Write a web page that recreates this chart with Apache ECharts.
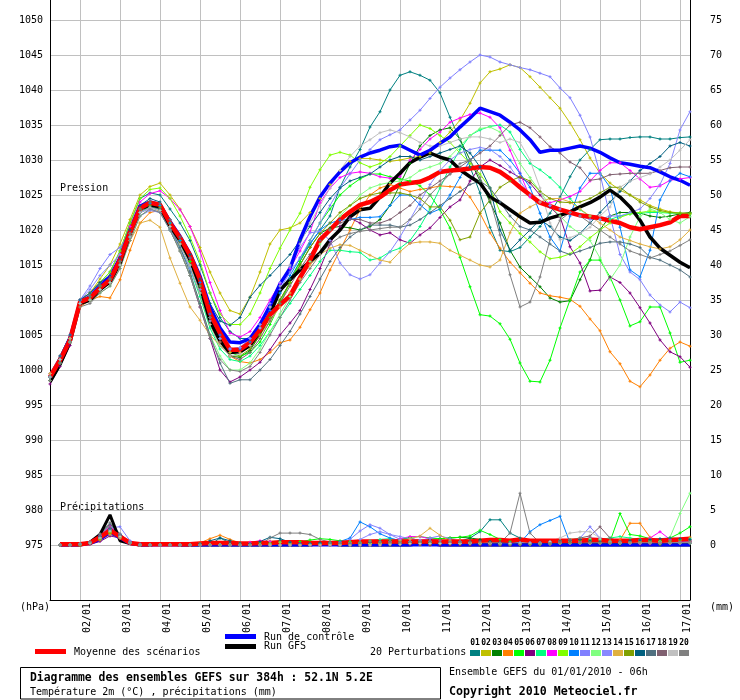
<!DOCTYPE html>
<html><head><meta charset="utf-8">
<script src="https://cdn.jsdelivr.net/npm/echarts@6/dist/echarts.min.js"></script>
<style>html,body{margin:0;padding:0;background:#fff;}#c{width:740px;height:700px;}</style>
</head><body><div id="c"></div>
<script>
const STEP_H = 6;
const DAY_LABELS = ['02/01','03/01','04/01','05/01','06/01','07/01','08/01','09/01','10/01','11/01','12/01','13/01','14/01','15/01','16/01','17/01'];
const DAY_TICK_HOURS = [18,42,66,90,114,138,162,186,210,234,258,282,306,330,354,378];
const PRESSURE_TICKS = [975,980,985,990,995,1000,1005,1010,1015,1020,1025,1030,1035,1040,1045,1050];
const PRECIP_TICKS = [0,5,10,15,20,25,30,35,40,45,50,55,60,65,70,75];
const MEMBER_NAMES = ['01','02','03','04','05','06','07','08','09','10','11','12','13','14','15','16','17','18','19','20'];
const MEMBER_COLORS = ['#008080','#c0c000','#008000','#ff8000','#00ff00','#800080','#00ff80','#ff00ff','#80ff00','#0080ff','#8080ff','#80ff80','#8888ff','#e0b040','#80a000','#006080','#507080','#806070','#c0c0c0','#808080'];

// Pressure (hPa), every 6h from 01/01 06h
const P01 = [998.5,1001,1004.5,1010,1011,1012.5,1014,1017,1021,1024.5, 1025.3,1025,1023,1021,1018.5,1015,1011,1007.5,1005.5,1004.5, 1004.5,1006.5,1009,1011,1013,1015.5,1018,1020,1022,1026.1, 1029,1031.5,1034.7,1036.9,1040,1042.1,1042.6,1042.1,1041.4,1039.6, 1036.1,1032.9,1029,1025.3,1020.4,1017.1,1016.9,1017.5,1019,1020.5, 1022.4,1024.7,1027.6,1030,1031.5,1032.9,1033,1033,1033.2,1033.3, 1033.3,1033,1033,1033.2,1033.3];
const P02 = [998.5,1001.5,1004.5,1010,1011,1013,1015,1018,1021.5,1025, 1026.2,1026.7,1025,1023,1020.5,1017.5,1014,1011,1008.5,1008, 1010.4,1014,1018,1020,1020.3,1021,1022.5,1024.5,1026.5,1028.5, 1029.8,1030.2,1030.2,1030,1029.8,1030,1030.3,1030.5,1031,1032.5, 1034,1035.7,1038.1,1041,1042.6,1043,1043.6,1043.2,1041.9,1040.4, 1038.9,1037.4,1035.3,1032.9,1030.3,1028.1,1026.7,1025.7,1025,1024.3, 1023.5,1023,1022.6,1022.4,1022.4];
const P03 = [999,1001.5,1004,1009.5,1010,1011.5,1012.5,1015,1019,1022.5, 1023.5,1023,1020.5,1018,1015.5,1012,1007.5,1004.5,1002,1001.8, 1002.8,1005,1007.5,1010,1012.5,1015,1017.5,1019.5,1020.3,1020.5, 1020.3,1020,1020.5,1021.5,1023.5,1026.5,1029.5,1032,1033.5,1034.3, 1034.6,1033,1030,1027,1024,1021,1017.1,1014.7,1013.3,1011.9, 1010.3,1009.7,1009.9,1012.9,1015.7,1020,1022,1022.5,1022.5,1022.4, 1022,1021.8,1022,1022.3,1022.5];
const P04 = [999.5,1002,1004.5,1009,1010,1010.5,1010.3,1012.9,1017.1,1021, 1022.5,1022.8,1021,1018.5,1015.5,1011.5,1007,1004,1002,1001.2, 1001,1001.5,1002.5,1003.9,1004.3,1006.1,1008.6,1011,1014.3,1017.1, 1020,1022.9,1025,1026,1026.5,1026,1025.5,1025.8,1026,1026.3, 1026.2,1026.1,1024.7,1022.4,1019.6,1017.4,1015.4,1013.9,1012.4,1011, 1010.6,1010.4,1010.1,1009.1,1007.3,1005.6,1002.6,1000.9,998.4,997.6, 999.3,1001.4,1003.1,1004,1003.4];
const P05 = [999,1001.5,1004,1009.5,1010.5,1012,1013,1015.5,1019.5,1023, 1024,1023.5,1021,1018.5,1015.5,1012,1007.5,1004.5,1002.5,1002, 1002.5,1004,1006.5,1009.5,1012.5,1015.5,1018.5,1021,1023,1025, 1026.3,1027.3,1028,1028,1027.6,1027.3,1027,1026.3,1025,1022.9, 1020.3,1016.1,1011.9,1007.9,1007.7,1006.6,1004.4,1001,998.4,998.3, 1001.4,1006,1010,1014,1015.7,1015.7,1013.3,1010,1006.3,1006.9, 1009,1009,1005.3,1001.1,1001.4];
const P06 = [998,1000.5,1003.5,1009.5,1010,1011.5,1012.5,1015,1019,1022.5, 1023.2,1022.8,1020,1017,1013.5,1009,1004.5,1000,998.3,999, 1000,1001.1,1002.9,1005,1006.7,1008.5,1011.5,1014.5,1018,1020.5, 1021.7,1021,1020,1019.3,1019.6,1018.6,1018.1,1019.3,1020.3,1021.8, 1023.3,1024.3,1027,1029,1030,1029.2,1028.3,1027.5,1026.7,1025, 1023.3,1021.9,1017.6,1015.3,1011.3,1011.4,1013.3,1012.5,1011,1008.9, 1006.7,1004.3,1002.6,1001.9,1000.4];
const P07 = [999,1001.5,1004,1009.5,1010,1011.5,1012.5,1015,1019,1022.5, 1023.3,1022.8,1020,1017.5,1014.5,1010.5,1006,1003,1001.5,1001.2, 1002,1003.5,1005.5,1007.5,1009.5,1011.5,1013.5,1015.5,1017.1,1017.1, 1016.9,1016.8,1015.7,1016,1016.9,1017.4,1018.5,1020.5,1023,1026, 1029,1031.5,1033.5,1034.3,1034.8,1035,1034,1031.5,1029.5,1028.6, 1027.5,1026.1,1024.5,1022.9,1022,1021.5,1021.5,1022,1022.3,1022.4, 1022.5,1022.5,1022.4,1022.4,1022.3];
const P08 = [999,1001.5,1004.5,1010,1011,1012.5,1013.5,1016.5,1020.5,1024, 1025.2,1025.6,1024.5,1022.9,1020.5,1017,1012.5,1008.5,1005.3,1004.7, 1005.5,1007.5,1010,1012.4,1014.5,1017,1019.7,1023.9,1026,1027.5, 1028.1,1028.3,1028.1,1027.6,1027.4,1027.6,1030,1031.5,1033,1034, 1035.4,1036,1036.5,1036.7,1036.1,1034.6,1031.4,1028.1,1024.7,1024, 1023.9,1024.3,1024.8,1025.5,1027,1028.5,1029.6,1029.6,1028.5,1027.3, 1026.1,1026.3,1027.1,1027.3,1027.5];
const P09 = [999,1001.5,1004.5,1010,1011,1012.5,1014,1017,1021,1024.5, 1025.8,1026,1024.5,1022,1019,1015.5,1011,1008,1006.5,1006.5, 1008,1011,1014.5,1017.4,1020,1022.4,1026.1,1028.6,1030.7,1031.1, 1030.7,1029.6,1029,1029.5,1030.5,1032,1033.5,1035,1034.5,1033.5, 1032.5,1031,1029.5,1028,1026,1022.6,1021,1019.5,1018.3,1016.9, 1015.9,1016.1,1016.6,1017.6,1018.9,1020,1021,1021.8,1022.3,1022.5, 1022.7,1022.6,1022.5,1022.4,1022.3];
const P10 = [999,1001.5,1004.5,1009.5,1010.5,1012,1013,1015.5,1019.5,1023, 1023.8,1023.5,1021,1018.5,1016,1012.5,1008,1005,1003,1003, 1004,1006,1008.5,1011,1013.5,1016,1018,1020,1021,1021.4, 1021.5,1021.8,1021.8,1021.9,1023.5,1025,1025,1023.6,1022.4,1023, 1025,1027.5,1030,1031.4,1031.4,1031.4,1030,1028.1,1026.1,1022.4, 1019,1017,1022,1026,1028.1,1028.1,1026.1,1020.4,1014.3,1013.3, 1017.1,1024.3,1027,1028.1,1027.6];
const P11 = [999.5,1002,1005,1010,1012,1014.5,1016.5,1017.5,1019.5,1022, 1022.8,1022.5,1020.5,1018,1015,1011.5,1007.5,1004.5,1003,1003.2, 1004.5,1006.5,1009,1011.5,1014,1016,1018.5,1021,1023.5,1026, 1028,1030,1031.5,1032.9,1033.6,1034.3,1035.7,1037.1,1038.8,1040.4, 1041.7,1042.9,1044,1045,1044.7,1044,1043.6,1043.2,1042.9,1042.4, 1041.9,1040.3,1038.9,1036.4,1033.3,1028,1022,1016.5,1014,1012.9, 1010.7,1009.3,1008.3,1009.7,1008.9];
const P12 = [998.5,1001,1004,1009.5,1010,1011,1012,1014.5,1018.5,1022, 1023,1022.5,1020,1017,1013.5,1009.5,1005,1002,1000,1000, 1001,1003,1005.5,1008,1010.5,1013,1015.5,1018,1020,1022, 1023.5,1025,1026,1026.5,1026.8,1027,1027.5,1028.5,1029,1029.5, 1030.5,1032,1033.5,1034.5,1034.7,1034,1032,1029.5,1027.5,1025.5, 1023.5,1022,1020.5,1019.5,1018.5,1016,1012.9,1015,1019,1021.9, 1023,1022.5,1021.5,1021,1021.9];
const P13 = [999,1001.5,1004.5,1010,1011.5,1013.5,1015,1016.5,1019,1022.5, 1023,1022.5,1020,1017.5,1014.5,1011,1007,1004.5,1003,1003.2, 1004.5,1006.5,1009.5,1012.5,1014.7,1017.5,1019.6,1019.8,1018.5,1015.3, 1013.6,1013,1013.6,1015.3,1016.9,1019,1021.5,1024,1026.5,1028.5, 1030,1031,1031.5,1031.8,1031.5,1030.5,1029,1027,1025,1024, 1023.5,1023,1022.5,1022,1021.5,1021.5,1022,1022,1022.5,1023, 1024.5,1026.5,1029.5,1034.3,1036.9];
const P14 = [999.5,1001.5,1004.5,1009.5,1010,1011.5,1012.5,1015,1018.5,1021, 1021.4,1020.4,1016,1012.4,1009,1007.1,1005,1003.5,1002.5,1002.5, 1003.5,1005,1007,1009,1011,1013,1015,1016.5,1017.4,1017.9, 1017.8,1017.1,1016.4,1015.7,1015.4,1016.9,1018.1,1018.3,1018.3,1018.1, 1017.1,1016.4,1015.7,1015,1014.7,1015.7,1019.6,1022.4,1023.3,1024, 1024.5,1024.5,1024,1023,1022,1021,1020,1019,1018.5,1018, 1017.6,1017.3,1017.6,1018.6,1020];
const P15 = [998.5,1001,1004,1009.5,1010.5,1012,1013,1015.5,1019.5,1023, 1023.5,1023.2,1020.5,1018,1015,1011,1006.5,1003.5,1002,1002, 1003,1005,1007.5,1010,1012.5,1015,1017.5,1019.5,1021,1022.5, 1023.5,1024.5,1025,1025.3,1025.3,1025.3,1025,1024.5,1023.3,1023.3, 1021.4,1018.6,1019,1022.4,1024.3,1026.1,1027,1027.6,1027,1025.5, 1024.5,1024,1023.9,1024,1024.5,1025.3,1026.1,1026.1,1025,1024, 1023.3,1022.8,1022.5,1022.4,1022.4];
const P16 = [999,1002,1005,1010,1011,1012.5,1013.5,1016,1020,1023.5, 1024.5,1024,1021.5,1019,1016.5,1013,1009.5,1007,1006.4,1007.5, 1010.4,1012.1,1013.5,1015,1016.5,1018.5,1020.5,1022.5,1024.5,1026, 1027,1027.5,1028,1029,1030,1030.5,1030.5,1030,1030.5,1031, 1031.5,1032,1031,1029,1026,1020,1017.1,1018.6,1020,1021.5, 1020.5,1019,1018.5,1019.5,1021,1022.5,1024,1025.5,1027,1028.5, 1029.5,1030.5,1032,1032.5,1032];
const P17 = [998.5,1001,1004,1009.5,1010,1011.5,1012.5,1015,1019,1022.5, 1023.3,1023,1020.5,1017.5,1014,1009.5,1005,1001,998.1,998.6, 998.6,1000,1001.5,1003.5,1005.5,1008,1010.5,1013,1015.5,1017.5, 1019,1020,1020.7,1020.7,1020.7,1020.4,1020.7,1021.5,1022.5,1023.5, 1024.5,1025.5,1026.5,1027,1026,1024,1022,1020.5,1020,1019, 1018,1017,1016.5,1017,1017.5,1018.1,1018.3,1018.3,1018,1017.5, 1016.1,1015.7,1015,1014.3,1013.3];
const P18 = [999,1001.5,1004,1009.5,1010.5,1012,1013,1015.5,1019.5,1023, 1024,1023.8,1021.5,1019,1016,1012,1007.5,1004,1002,1001.5, 1002.5,1004.5,1007,1009.5,1012,1014.5,1016.5,1018.5,1020,1021, 1021.5,1021.5,1021,1021,1021.5,1022.5,1023.5,1025,1026,1027, 1028,1029,1030,1031,1032,1033.5,1035,1035.4,1034.6,1033.3, 1031.9,1031,1029.7,1028.9,1027.1,1027.3,1027.9,1028,1028.1,1028.1, 1028.1,1028.5,1028.9,1029,1029];
const P19 = [999,1001.5,1004,1009.5,1010,1011.5,1012.5,1015,1019,1022.5, 1023.2,1022.8,1020.5,1018,1015,1011,1006.5,1003.5,1002,1002.2, 1003.5,1006,1009,1012,1015,1018,1021,1023.5,1026,1028.5, 1030.5,1032,1032.9,1033.9,1034.3,1033.9,1033.3,1032.5,1032,1032, 1032.5,1033,1033.3,1033.3,1033,1032.5,1033,1032.5,1030,1026, 1021,1018.6,1018.9,1019.5,1020.4,1022,1023.3,1026.1,1027,1027.5, 1028,1029,1030,1031.4,1032.9];
const P20 = [998.5,1001,1004,1009,1009.5,1011,1012,1014.5,1018.5,1022, 1023,1022.5,1020,1017,1013.5,1009,1004.5,1001.5,1000,999.8, 1000.5,1002.5,1005,1007.5,1010,1012.5,1014.5,1016.5,1018,1019, 1019.5,1019.8,1020,1020.2,1020.4,1020.4,1021.5,1023,1025,1026.5, 1028,1029.5,1030,1027.5,1024.3,1019.3,1013.6,1009,1009.7,1013.3, 1018.6,1021.4,1022.5,1022,1021,1020,1019,1018,1017,1016.5, 1016,1016.5,1017,1017.8,1018.6];
const CONTROL = [999,1001.5,1004.5,1009.7,1010.5,1012,1013.3,1016,1020,1023.4, 1024,1023.6,1021.2,1019.1,1016.6,1013.4,1009,1006,1004,1003.9, 1004.5,1006.5,1009.2,1012.3,1014.5,1018.6,1021.9,1024.7,1026.7,1028.3, 1029.6,1030.4,1031,1031.4,1031.9,1032.1,1031.4,1030.7,1031.4,1032.4, 1033.3,1034.7,1036,1037.4,1036.9,1036.4,1035.4,1034.3,1032.9,1031.1, 1031.4,1031.4,1031.7,1032,1031.7,1031.1,1030.3,1029.6,1029.4,1029.1, 1028.9,1028.3,1027.6,1027.1,1026.4];
const GFS = [998.3,1000.8,1004,1009.5,1010,1011.5,1012.6,1015.3,1019.5,1023, 1023.6,1023.3,1020.6,1018.5,1015.8,1012,1007,1004.2,1002.5,1002.6, 1003.5,1005.5,1008,1011.4,1012.9,1014.3,1015.5,1016.7,1018.6,1020, 1021.9,1022.9,1023.1,1024.7,1026.7,1028.1,1029.6,1030.4,1031,1030.4, 1030,1028.6,1027.6,1026.7,1024.7,1023.9,1022.9,1021.9,1021,1021.1, 1021.7,1022.1,1022.6,1023.3,1023.9,1024.7,1025.7,1024.7,1023.3,1021.4, 1019,1017.4,1016.4,1015.4,1014.6];
const MEAN = [999,1001.4,1004.3,1009.7,1010.3,1011.7,1012.9,1015.7,1019.7,1023.1, 1023.9,1023.6,1021,1018.9,1016.4,1012.9,1008.1,1005.3,1002.9,1002.9, 1003.9,1005.7,1007.9,1009.3,1010.6,1013.2,1015.7,1018.6,1020,1021.5, 1022.6,1023.6,1024,1024.7,1025.7,1026.5,1026.7,1026.9,1027.5,1028.3, 1028.5,1028.6,1028.8,1029,1028.9,1028.3,1027.3,1026.1,1025,1023.9, 1023.4,1022.9,1022.5,1022.1,1021.9,1021.7,1021.3,1021,1020.4,1020.1, 1020.4,1020.7,1021.1,1022,1022];

// Precipitation (mm per 6h), every 6h from 01/01 12h
const R01 = [0,0,0.1,0.3,1.2,2.4,1.5,0.3, 0,0,0,0,0,0,0,0, 1.0,0.3,0,0,0,0.3,0.6,0.4, 0.2,0.2,0.3,0.4,0.3,0.2,0.2,0.3, 0.3,0.5,0.8,1.0,0.6,0.4,0.3,0.5, 0.5,1.0,1.9,3.6,3.6,1.7,1.0,0.3, 0.2,0.1,0.2,0.3,0.4,0.3,0.2,0.3, 0.3,0.4,0.5,0.6,0.5,0.4,0.5,0.6];
const R02 = [0,0,0,0.2,0.8,1.6,1.0,0.3, 0,0,0,0,0,0,0,0, 0,0,0,0,0,0,0,0, 0,0,0,0.2,0.3,0.2,0.1,0.1, 0.1,0.2,0.1,0.1,0,0,0.2,0.4, 0.3,0.2,0.1,0,0,0,0.1,0.1, 0.2,0.3,0.4,0.5,0.6,0.4,0.3,0.2, 0.2,0.3,0.2,0.2,0.1,0.2,0.4,0.5];
const R03 = [0,0,0.1,0.4,1.3,2.8,1.2,0.2, 0,0,0,0,0,0,0,0, 0,0,0,0,0,0,0,0, 0,0.1,0.2,0.3,0.2,0.1,0.2,0.4, 0.5,0.6,0.4,0.3,0.5,0.8,0.9,1.0, 1.1,1.0,0.8,0.5,0.3,0.2,0.1,0.1, 0.2,0.3,0.4,0.6,0.8,0.5,0.3,0.2, 0.1,0.2,0.3,0.2,0.1,0.2,0.3,0.2];
const R04 = [0,0,0,0.2,0.9,1.8,1.1,0.2, 0,0,0,0,0,0,0.3,0.9, 1.4,0.8,0.3,0.1,0,0,0,0, 0,0,0,0.1,0.2,0.3,0.3,0.2, 0.3,0.5,0.7,0.8,0.6,0.4,0.3,0.3, 0.3,0.2,0.2,0.1,0.1,0.1,0.2,0.2, 0.2,0.2,0.2,0.3,0.4,0.6,0.5,0.6, 0.7,3.1,3.1,1.1,0.5,0.4,0.6,1.1];
const R05 = [0,0,0.1,0.3,1.1,2.2,1.4,0.3, 0,0,0,0,0,0,0,0, 0,0,0,0,0.3,0.5,0.4,0.3, 0.5,0.7,0.9,0.8,0.6,0.5,0.4,0.3, 0.4,0.6,0.8,1.1,1.2,1.0,0.9,1.0, 1.1,1.3,2.1,1.5,0.8,0.5,0.3,0.2, 0.2,0.3,0.5,0.6,0.7,0.8,0.9,0.5, 4.5,1.5,1.3,0.9,0.6,1.0,1.7,2.6];
const R06 = [0,0,0,0.1,0.5,1.3,1.0,0.4, 0.1,0,0,0,0,0,0,0, 0,0,0,0,0,0,0,0, 0,0,0,0,0,0,0,0, 0,0.1,0.2,0.1,0.1,0,0,0, 0,0,0,0,0,0,0,0.1, 0.2,0.3,0.4,0.6,0.8,1.0,0.9,0.5, 0.3,0.2,0.1,0.1,0.2,0.3,0.4,0.5];
const R07 = [0,0,0.1,0.3,1.0,2.1,1.3,0.3, 0,0,0,0,0,0,0,0, 0,0,0,0,0,0,0,0, 0,0,0,0,0,0,0.2,0.6, 0.8,0.9,0.7,0.5,0.4,0.3,0.2,0.2, 0.2,0.3,0.2,0.2,0.1,0.1,0.1,0.1, 0.2,0.3,0.2,0.2,0.4,0.6,0.8,1.0, 1.2,1.0,0.8,0.6,0.5,0.6,0.8,0.9];
const R08 = [0,0,0.1,0.4,1.4,2.7,1.4,0.3, 0,0,0,0,0,0,0,0, 0,0,0,0.4,0.6,0.5,0.4,0.3, 0.2,0.1,0,0,0.1,0.2,0.2,0.3, 0.3,0.5,0.9,1.2,1.2,0.9,0.6,0.4, 0.3,0.3,0.2,0.2,0.2,0.2,0.3,0.3, 0.3,0.3,0.4,0.5,0.5,0.4,0.3,0.3, 0.3,0.4,0.6,1.0,1.9,0.8,0.5,0.6];
const R09 = [0,0,0,0.2,0.8,1.8,1.2,0.3, 0,0,0,0,0,0,0,0, 0,0,0,0,0,0.2,0.4,0.2, 0.1,0.1,0.2,0.2,0.2,0.3,0.3,0.2, 0.2,0.3,0.3,0.2,0.3,0.4,0.3,0.2, 0.3,0.4,0.3,0.2,0.2,0.1,0.1,0.1, 0.1,0.2,0.2,0.3,0.3,0.2,0.2,0.2, 0.3,0.4,0.5,0.5,0.4,0.3,0.3,0.3];
const R10 = [0,0,0.1,0.3,1.0,2.0,1.5,0.5, 0.1,0,0,0,0,0,0,0, 0,0,0,0,0,0,0,0, 0.1,0.1,0.2,0.3,0.5,1.0,3.3,2.6, 1.6,1.0,0.6,0.4,0.3,0.2,0.2,0.2, 0.3,0.3,0.2,0.2,0.2,0.2,0.3,1.9, 2.9,3.5,4.1,0.3,0.2,0.2,0.3,0.3, 0.3,0.5,0.6,0.5,0.4,0.3,0.3,0.3];
const R11 = [0,0,0.1,0.4,1.3,2.5,2.6,0.6, 0.1,0,0,0,0,0,0,0, 0,0,0,0,0,0,0,0, 0,0,0,0.1,0.3,0.8,2.0,2.9, 2.4,1.5,0.8,0.5,0.6,1.0,1.3,0.9, 0.5,0.3,0.2,0.2,0.3,0.3,0.2,0.2, 0.2,0.3,0.4,0.6,1.0,2.6,1.0,0.4, 0.3,0.2,0.2,0.3,0.4,0.3,0.3,0.4];
const R12 = [0,0,0.1,0.3,1.0,1.9,1.1,0.2, 0,0,0,0,0,0,0,0, 0,0,0,0,0,0,0,0, 0,0,0,0,0.1,0.2,0.3,0.2, 0.2,0.3,0.4,0.3,0.3,0.2,0.2,0.2, 0.2,0.3,0.3,0.2,0.2,0.2,0.2,0.2, 0.3,0.4,0.6,0.8,1.0,0.9,0.7,0.5, 0.5,0.4,0.4,0.4,0.5,1.1,4.5,7.4];
const R13 = [0,0,0.1,0.3,1.1,2.2,1.6,0.4, 0,0,0,0,0,0,0,0, 0,0,0,0,0,0,0,0, 0,0,0,0,0,0.3,0.8,1.5, 1.9,1.5,1.2,0.9,0.7,0.5,0.3,0.2, 0.2,0.2,0.2,0.2,0.2,0.3,0.3,0.3, 0.3,0.3,0.4,0.5,0.4,0.3,0.3,0.3, 0.3,0.3,0.3,0.3,0.3,0.3,0.4,0.4];
const R14 = [0,0,0.1,0.2,0.7,1.5,1.0,0.3, 0,0,0,0,0,0,0,0, 0,0,0,0,0,0,0,0, 0,0,0,0,0,0,0,0, 0.1,0.3,0.6,0.9,1.3,2.4,1.4,0.6, 0.4,0.3,0.2,0.2,0.1,0.1,0.1,0.1, 0.1,0.1,0.2,0.2,0.2,0.2,0.3,0.3, 0.3,0.4,0.4,0.4,0.3,0.3,0.3,0.4];
const R15 = [0,0,0,0.2,0.8,1.7,1.2,0.3, 0,0,0,0,0,0,0,0, 0,0,0,0,0,0,0,0, 0,0,0,0,0,0,0,0, 0,0,0.1,0.2,0.2,0.1,0.1,0.1, 0.1,0.1,0.1,0.1,0.1,0.1,0.1,0.1, 0.1,0.2,0.3,0.5,0.6,0.4,0.3,0.3, 0.3,0.4,0.5,0.5,0.4,0.5,0.6,0.7];
const R16 = [0,0,0.1,0.3,1.2,2.3,1.3,0.2, 0,0,0,0,0,0,0.2,0.6, 1.0,0.6,0.3,0.2,0.5,1.1,0.9,0.4, 0.2,0.2,0.3,0.3,0.2,0.2,0.3,0.4, 0.5,0.4,0.3,0.3,0.4,0.4,0.3,0.3, 0.4,0.5,0.6,0.5,0.4,0.3,0.3,0.3, 0.4,0.5,0.6,0.7,0.8,0.6,0.5,0.4, 0.5,0.6,0.7,0.8,0.9,1.0,0.9,0.8];
const R17 = [0,0,0.1,0.4,1.5,3.0,1.5,0.3, 0,0,0,0,0,0,0,0, 0,0,0,0,0,0,0,0, 0,0,0,0,0,0,0,0, 0,0.1,0.2,0.3,0.2,0.2,0.3,0.3, 0.3,0.2,0.2,0.1,0.1,0.1,0.1,0.1, 0.1,0.2,0.3,0.3,0.3,0.4,0.3,0.3, 0.2,0.2,0.3,0.3,0.3,0.3,0.3,0.3];
const R18 = [0,0,0.1,0.3,1.1,2.5,1.3,0.2, 0,0,0,0,0,0,0,0, 0,0,0,0,0,0,0,0, 0,0,0,0,0,0,0,0, 0.1,0.2,0.3,0.3,0.3,0.2,0.2,0.3, 0.4,0.5,0.5,0.4,0.3,0.2,0.2,0.2, 0.3,0.4,0.5,0.7,1.0,1.3,2.6,1.0, 0.5,0.3,0.3,0.3,0.3,0.3,0.4,0.4];
const R19 = [0,0,0.1,0.3,1.0,2.0,1.2,0.3, 0,0,0,0,0,0,0,0, 0,0,0,0,0,0,0,0, 0,0,0,0,0,0,0,0, 0,0.1,0.1,0.2,0.2,0.2,0.2,0.2, 0.2,0.2,0.2,0.2,0.2,0.2,0.3,0.3, 0.3,0.5,1.0,1.7,1.9,1.9,1.0,0.4, 0.3,0.3,0.3,0.3,0.3,0.3,0.3,0.3];
const R20 = [0,0,0.1,0.5,1.6,3.2,1.6,0.3, 0,0,0,0,0,0,0,0, 0,0,0,0,0,1.0,1.7,1.7, 1.7,1.5,0.8,0.4,0.3,0.3,0.4,0.5, 0.5,0.4,0.4,0.5,0.5,0.6,0.6,0.5, 0.4,0.3,0.3,0.3,0.3,1.7,7.4,1.7, 0.3,0.2,0.2,0.2,0.3,0.3,0.3,0.3, 0.3,0.3,0.3,0.3,0.3,0.3,0.3,0.3];
const R_CONTROL = [0,0,0,0.2,0.8,1.8,1.0,0.2, 0,0,0,0,0,0,0,0, 0,0,0,0,0,0,0,0, 0,0,0,0,0,0,0,0, 0,0,0,0,0,0,0,0, 0,0,0,0,0,0,0,0, 0,0,0,0,0,0,0,0, 0,0,0,0,0,0,0,0];
const R_GFS = [0,0,0,0.4,1.5,4.3,0.6,0.2, 0,0,0.2,0.2,0,0,0,0, 0,0,0,0,0,0,0,0, 0,0,0.2,0.2,0,0,0,0, 0,0,0,0,0.2,0.2,0,0, 0,0,0,0,0,0,0,0, 0,0,0,0,0,0,0,0, 0,0,0,0,0,0,0,0];
const R_MEAN = [0.1,0.1,0.1,0.3,1.1,2.1,1.2,0.3, 0.1,0.1,0.1,0.1,0.1,0.1,0.2,0.3, 0.3,0.3,0.2,0.2,0.3,0.3,0.4,0.4, 0.4,0.3,0.3,0.3,0.3,0.4,0.5,0.5, 0.5,0.5,0.5,0.5,0.5,0.5,0.5,0.5, 0.5,0.5,0.6,0.7,0.7,0.6,0.8,0.6, 0.6,0.6,0.6,0.6,0.6,0.7,0.7,0.6, 0.6,0.6,0.7,0.7,0.6,0.7,0.8,0.9];

const PRESSURE_MEMBERS = [P01,P02,P03,P04,P05,P06,P07,P08,P09,P10,P11,P12,P13,P14,P15,P16,P17,P18,P19,P20];
const PRECIP_MEMBERS = [R01,R02,R03,R04,R05,R06,R07,R08,R09,R10,R11,R12,R13,R14,R15,R16,R17,R18,R19,R20];

const LABEL_SHIFT_H = 4.5;
const MONO = '"DejaVu Sans Mono", "Liberation Mono", monospace';
const PLUS = 'path://M1,0h1v3h-1zM0,1h3v1h-3z';

function pSeries(name, vals, color, width, showSym) {
  return { type:'line', name, xAxisIndex:0, yAxisIndex:0,
    data: vals.map((v,k)=>[k*STEP_H, v]),
    lineStyle:{color, width}, itemStyle:{color},
    symbol: showSym ? PLUS : 'none', symbolSize: 3, showSymbol: showSym,
    silent:true, animation:false, smooth:false };
}
function rSeries(name, vals, color, width, showSym) {
  return { type:'line', name, xAxisIndex:0, yAxisIndex:1,
    data: vals.map((v,j)=>[(j+1)*STEP_H, v]),
    lineStyle:{color, width}, itemStyle:{color},
    symbol: showSym ? PLUS : 'none', symbolSize: 3, showSymbol: showSym,
    silent:true, animation:false };
}

const series = [];
PRESSURE_MEMBERS.forEach((arr,i)=>series.push(pSeries('P'+MEMBER_NAMES[i], arr, MEMBER_COLORS[i], 1, true)));
PRECIP_MEMBERS.forEach((arr,i)=>series.push(rSeries('R'+MEMBER_NAMES[i], arr, MEMBER_COLORS[i], 1, true)));
series.push(pSeries('GFS', GFS, '#000000', 3.5, false));
series.push(rSeries('RGFS', R_GFS, '#000000', 3, false));
series.push(pSeries('Control', CONTROL, '#0000ff', 3.5, false));
series.push(rSeries('RControl', R_CONTROL, '#0000ff', 3, false));
series.push(pSeries('Mean', MEAN, '#ff0000', 4.5, false));
series.push(rSeries('RMean', R_MEAN, '#ff0000', 4.5, false));

const txt = (text, x, y, font, extra) => Object.assign({ type:'text', x, y, silent:true,
  style: Object.assign({ text, font, fill:'#000', verticalAlign:'middle', align:'left' }, extra||{}) });
const F10 = '10px ' + MONO;

const graphics = [
  txt('Pression', 60, 188, F10),
  txt('Précipitations', 60, 507, F10),
  txt('(hPa)', 20, 607, F10),
  txt('(mm)', 710, 607, F10),
  { type:'rect', shape:{x:225,y:634,width:31,height:5}, style:{fill:'#0000ff'}, silent:true },
  txt('Run de contrôle', 264, 637, F10),
  { type:'rect', shape:{x:225,y:644,width:31,height:5}, style:{fill:'#000000'}, silent:true },
  txt('Run GFS', 264, 646, F10),
  { type:'rect', shape:{x:35,y:649,width:31,height:5}, style:{fill:'#ff0000'}, silent:true },
  txt('Moyenne des scénarios', 74, 652, F10),
  txt('20 Perturbations', 370, 652, F10),
  { type:'rect', shape:{x:20.5,y:667.5,width:420,height:31.5}, style:{fill:'none', stroke:'#000', lineWidth:1}, silent:true },
  txt('Diagramme des ensembles GEFS sur 384h : 52.1N 5.2E', 30, 678, 'bold 11.4px ' + MONO),
  txt('Température 2m (°C) , précipitations (mm)', 30, 692, F10),
  txt('Ensemble GEFS du 01/01/2010 - 06h', 449, 672, F10),
  txt('Copyright 2010 Meteociel.fr', 449, 692, 'bold 11.6px ' + MONO)
];
MEMBER_NAMES.forEach((n,i)=>{
  graphics.push({ type:'rect', shape:{x:470+11*i, y:650, width:10, height:6}, style:{fill:MEMBER_COLORS[i]}, silent:true });
  graphics.push(txt(n, 475+11*i, 643, 'bold 8px ' + MONO, {align:'center'}));
});

const chart = echarts.init(document.getElementById('c'), null, {renderer:'canvas'});
chart.setOption({
  animation:false,
  backgroundColor:'#ffffff',
  grid:{ left:50, right:50, top:0, bottom:100, containLabel:false, outerBoundsMode:'none' },
  xAxis:{ type:'value', min:0, max:384,
    axisLine:{ show:true, onZero:false, lineStyle:{color:'#000', width:1} },
    axisTick:{ show:false, customValues: DAY_TICK_HOURS },
    splitLine:{ show:true, lineStyle:{color:'#c0c0c0', width:1} },
    axisLabel:{ show:true, rotate:90, margin:3, color:'#000', fontFamily:MONO, fontSize:10,
      customValues: DAY_TICK_HOURS.map(h=>h+LABEL_SHIFT_H),
      formatter: v => DAY_LABELS[Math.round((v - LABEL_SHIFT_H - DAY_TICK_HOURS[0]) / 24)] }
  },
  yAxis:[
    { type:'value', position:'left', min: 975 - 55/7, max: 1050 + 20/7,
      axisLine:{ show:true, onZero:false, lineStyle:{color:'#000', width:1} },
      axisTick:{ show:false, customValues: PRESSURE_TICKS },
      splitLine:{ show:true, lineStyle:{color:'#c0c0c0', width:1} },
      axisLabel:{ show:true, customValues: PRESSURE_TICKS, margin:7, color:'#000', fontFamily:MONO, fontSize:10,
        formatter: v => String(Math.round(v)) } },
    { type:'value', position:'right', min: -55/7, max: 75 + 20/7,
      axisLine:{ show:true, onZero:false, lineStyle:{color:'#000', width:1} },
      axisTick:{ show:false, customValues: PRECIP_TICKS },
      splitLine:{ show:false },
      axisLabel:{ show:true, customValues: PRECIP_TICKS, margin:20, color:'#000', fontFamily:MONO, fontSize:10,
        formatter: v => String(Math.round(v)) } }
  ],
  graphic:{ elements: graphics },
  series
});
</script></body></html>
